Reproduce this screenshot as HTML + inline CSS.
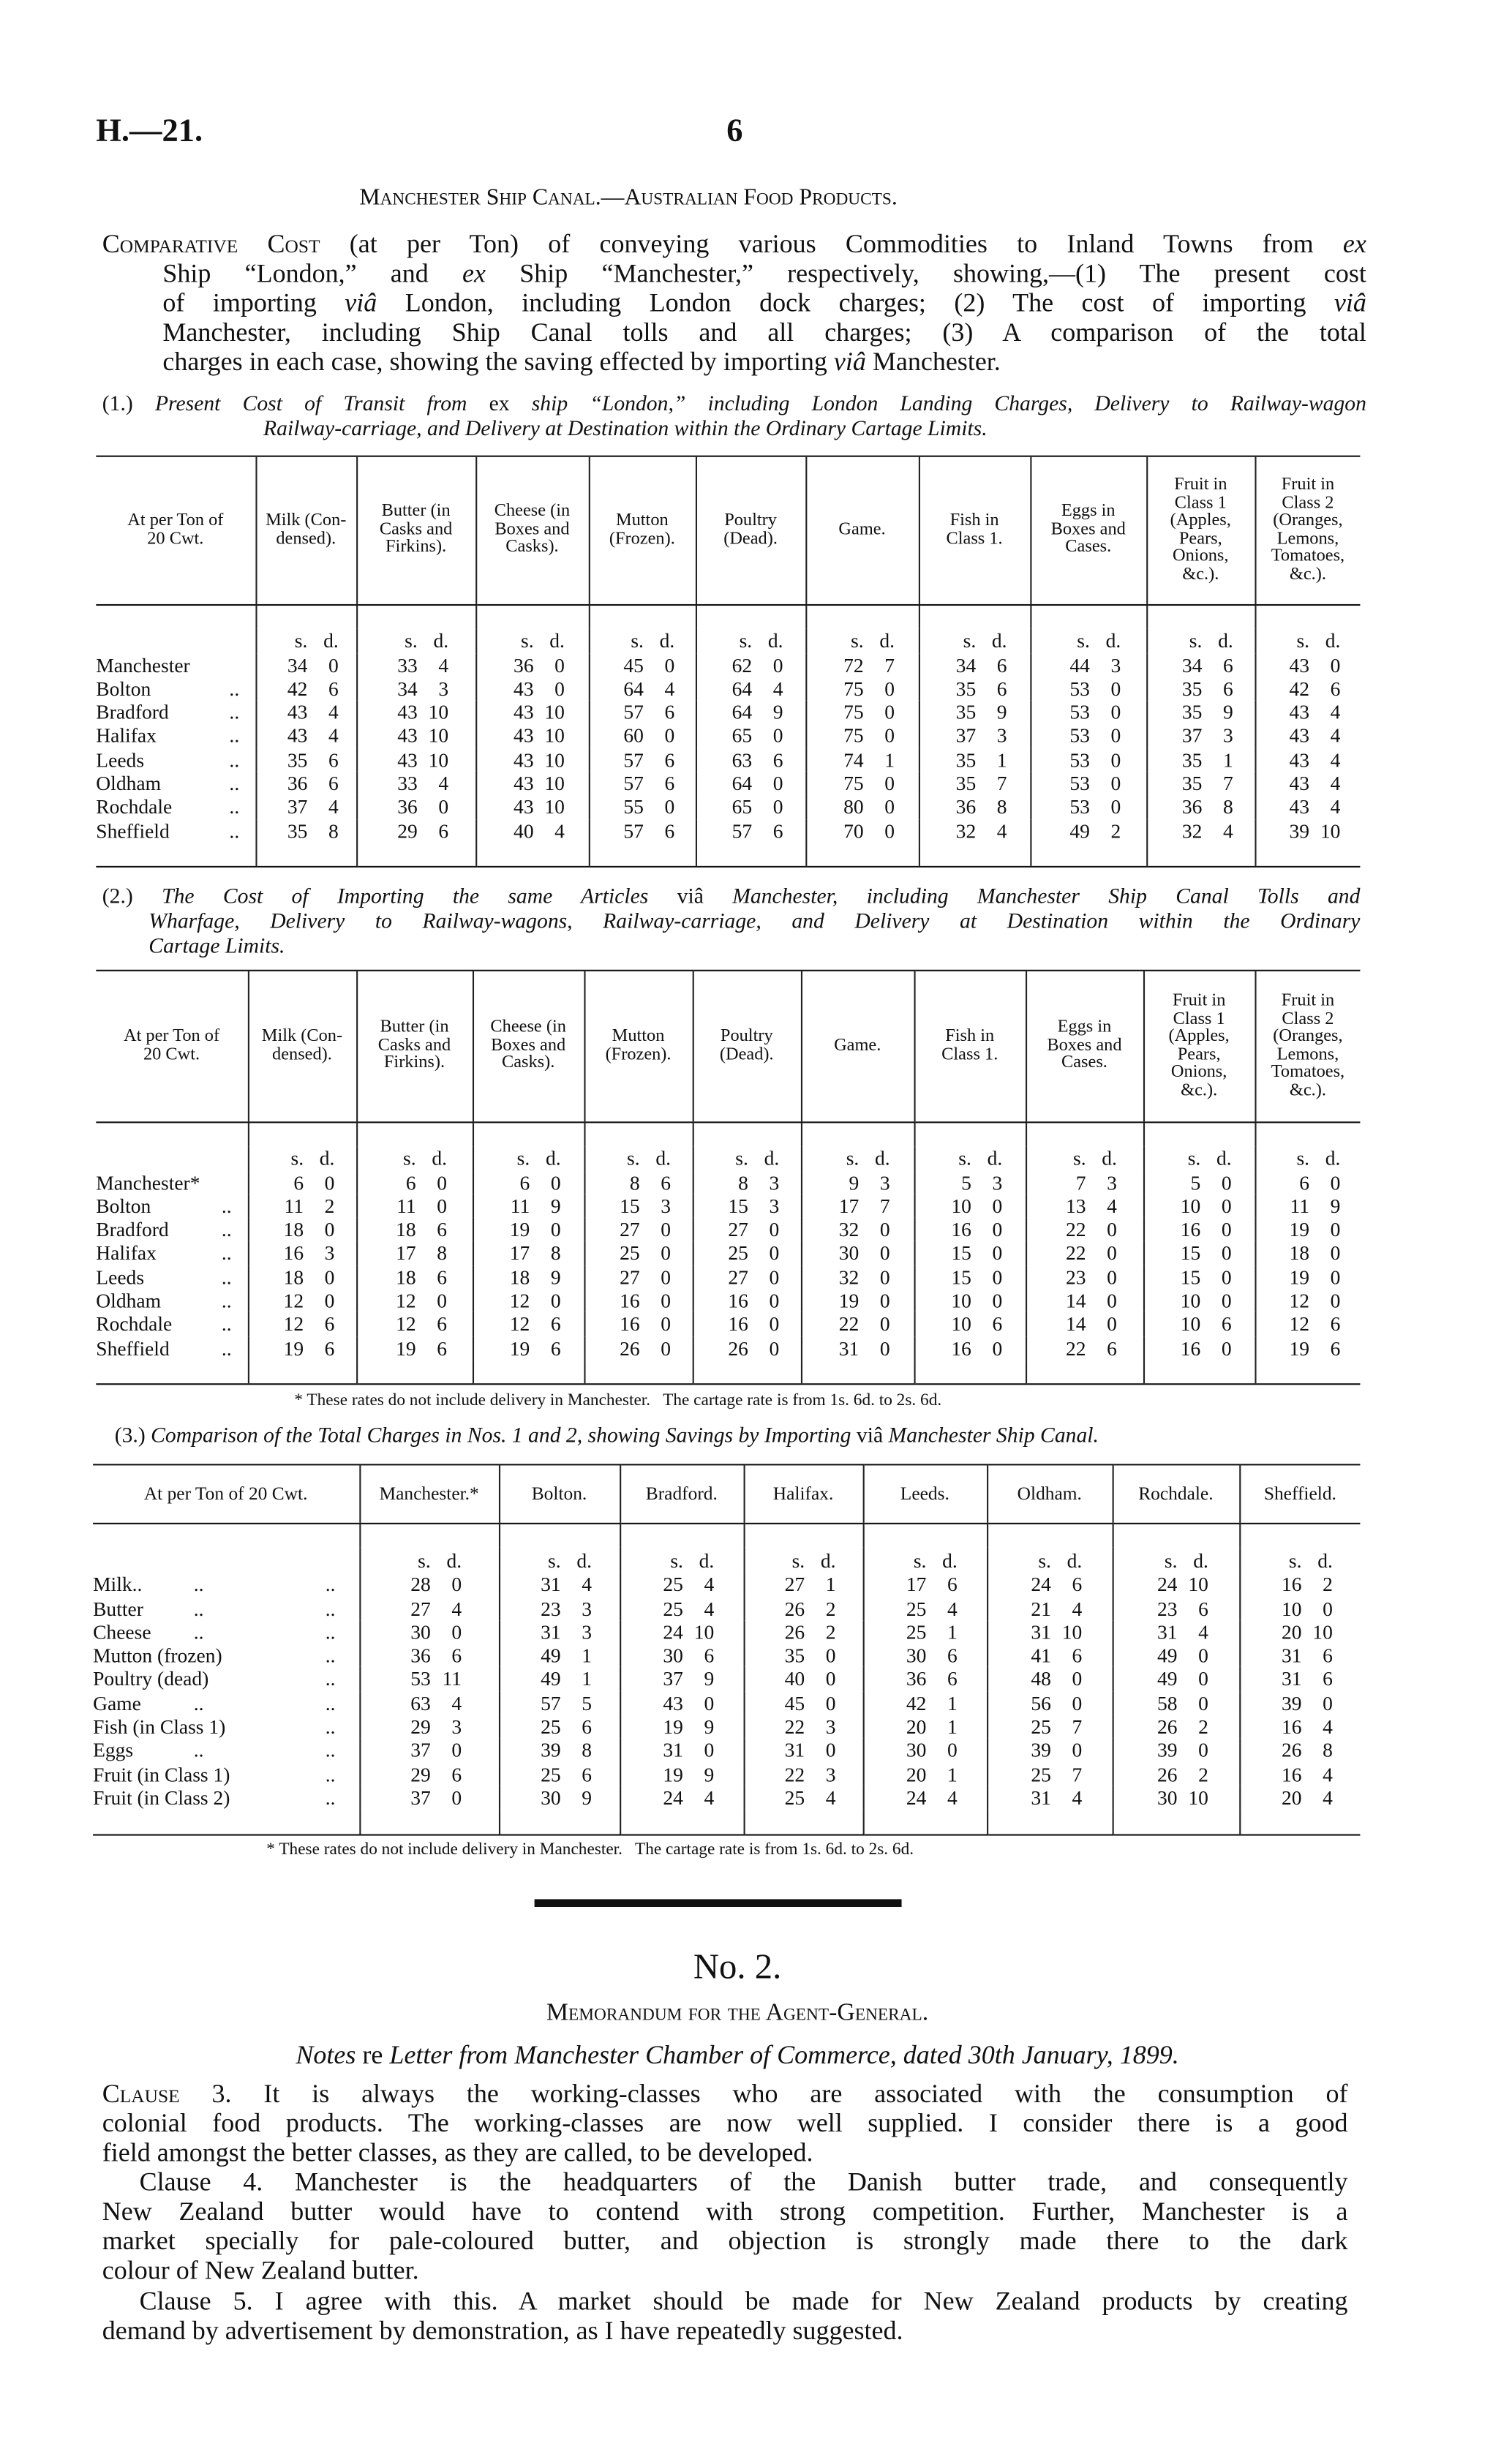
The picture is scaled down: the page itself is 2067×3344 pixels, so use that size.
<!DOCTYPE html>
<html><head><meta charset="utf-8">
<style>
html,body{margin:0;padding:0;background:#fff;}
body{width:2067px;height:3343px;overflow:hidden;position:relative;}
#p{position:absolute;left:0;top:0;width:976px;height:1579px;transform:scale(2.1178);transform-origin:0 0;font-family:"Liberation Serif",serif;color:#111;}
.a{position:absolute;white-space:nowrap;}
.j{position:absolute;text-align:justify;text-align-last:justify;white-space:nowrap;font-size:17px;line-height:19px;}
.sc{font-variant:small-caps;}
table{position:absolute;border-collapse:collapse;table-layout:fixed;font-size:13px;}
td{padding:0;border-left:1px solid #222;text-align:center;vertical-align:middle;line-height:15.3px;height:15.3px;white-space:nowrap;}
td:first-child{border-left:none;text-align:left;}
tr.h td{font-size:11.5px;line-height:11.5px;border-top:1.6px solid #111;border-bottom:1px solid #111;}
tr.e td{border-bottom:1.6px solid #111;}
b{font-weight:normal;display:inline-block;text-align:right;}
b.s{width:22px;}b.d{width:20px;}
.lb{position:relative;}
.dt{position:absolute;right:10px;}
.d1{position:absolute;left:65px;}.d2{position:absolute;left:150px;}
</style></head><body><div id="p">
<div class="a" style="left:62px;top:72px;font-size:21px;font-weight:bold;">H.—21.</div>
<div class="a" style="left:469px;top:72px;font-size:21px;font-weight:bold;">6</div>
<div class="a sc" style="left:232px;top:120px;font-size:15px;">Manchester Ship Canal.—Australian Food Products.</div>

<div class="j" style="left:66px;top:148px;width:816px;"><span class="sc">Comparative Cost</span> (at per Ton) of conveying various Commodities to Inland Towns from <i>ex</i></div>
<div class="j" style="left:105px;top:167px;width:777px;">Ship “London,” and <i>ex</i> Ship “Manchester,” respectively, showing,—(1) The present cost</div>
<div class="j" style="left:105px;top:186px;width:777px;">of importing <i>viâ</i> London, including London dock charges; (2) The cost of importing <i>viâ</i></div>
<div class="j" style="left:105px;top:205px;width:777px;">Manchester, including Ship Canal tolls and all charges; (3) A comparison of the total</div>
<div class="a" style="left:105px;top:224px;font-size:17px;line-height:19px;">charges in each case, showing the saving effected by importing <i>viâ</i> Manchester.</div>

<div class="j" style="left:66px;top:254px;width:816px;font-size:14px;line-height:16px;">(1.) <i>Present Cost of Transit from</i> ex <i>ship “London,” including London Landing Charges, Delivery to Railway-wagon</i></div>
<div class="a" style="left:170px;top:270px;font-size:14px;line-height:16px;"><i>Railway-carriage, and Delivery at Destination within the Ordinary Cartage Limits.</i></div>

<table style="left:62px;top:294px;width:816px;">
<colgroup><col style="width:103px"><col style="width:65px"><col style="width:77px"><col style="width:73px"><col style="width:69px"><col style="width:71px"><col style="width:73px"><col style="width:72px"><col style="width:75px"><col style="width:70px"><col style="width:68px"></colgroup>
<tr class="h" style="height:96px"><td style="text-align:center">At per Ton of<br>20 Cwt.</td><td>Milk (Con-<br>densed).</td><td>Butter (in<br>Casks and<br>Firkins).</td><td>Cheese (in<br>Boxes and<br>Casks).</td><td>Mutton<br>(Frozen).</td><td>Poultry<br>(Dead).</td><td>Game.</td><td>Fish in<br>Class 1.</td><td>Eggs in<br>Boxes and<br>Cases.</td><td>Fruit in<br>Class 1<br>(Apples,<br>Pears,<br>Onions,<br>&amp;c.).</td><td>Fruit in<br>Class 2<br>(Oranges,<br>Lemons,<br>Tomatoes,<br>&amp;c.).</td></tr>
<tr style="height:13px"><td style="height:13px"></td><td></td><td></td><td></td><td></td><td></td><td></td><td></td><td></td><td></td><td></td></tr>
<tr><td></td><td><b class="s">s.</b><b class="d">d.</b></td><td><b class="s">s.</b><b class="d">d.</b></td><td><b class="s">s.</b><b class="d">d.</b></td><td><b class="s">s.</b><b class="d">d.</b></td><td><b class="s">s.</b><b class="d">d.</b></td><td><b class="s">s.</b><b class="d">d.</b></td><td><b class="s">s.</b><b class="d">d.</b></td><td><b class="s">s.</b><b class="d">d.</b></td><td><b class="s">s.</b><b class="d">d.</b></td><td><b class="s">s.</b><b class="d">d.</b></td></tr>
<tr><td class="lb">Manchester</td><td><b class="s">34</b><b class="d">0</b></td><td><b class="s">33</b><b class="d">4</b></td><td><b class="s">36</b><b class="d">0</b></td><td><b class="s">45</b><b class="d">0</b></td><td><b class="s">62</b><b class="d">0</b></td><td><b class="s">72</b><b class="d">7</b></td><td><b class="s">34</b><b class="d">6</b></td><td><b class="s">44</b><b class="d">3</b></td><td><b class="s">34</b><b class="d">6</b></td><td><b class="s">43</b><b class="d">0</b></td></tr>
<tr><td class="lb">Bolton<span class="dt">..</span></td><td><b class="s">42</b><b class="d">6</b></td><td><b class="s">34</b><b class="d">3</b></td><td><b class="s">43</b><b class="d">0</b></td><td><b class="s">64</b><b class="d">4</b></td><td><b class="s">64</b><b class="d">4</b></td><td><b class="s">75</b><b class="d">0</b></td><td><b class="s">35</b><b class="d">6</b></td><td><b class="s">53</b><b class="d">0</b></td><td><b class="s">35</b><b class="d">6</b></td><td><b class="s">42</b><b class="d">6</b></td></tr>
<tr><td class="lb">Bradford<span class="dt">..</span></td><td><b class="s">43</b><b class="d">4</b></td><td><b class="s">43</b><b class="d">10</b></td><td><b class="s">43</b><b class="d">10</b></td><td><b class="s">57</b><b class="d">6</b></td><td><b class="s">64</b><b class="d">9</b></td><td><b class="s">75</b><b class="d">0</b></td><td><b class="s">35</b><b class="d">9</b></td><td><b class="s">53</b><b class="d">0</b></td><td><b class="s">35</b><b class="d">9</b></td><td><b class="s">43</b><b class="d">4</b></td></tr>
<tr><td class="lb">Halifax<span class="dt">..</span></td><td><b class="s">43</b><b class="d">4</b></td><td><b class="s">43</b><b class="d">10</b></td><td><b class="s">43</b><b class="d">10</b></td><td><b class="s">60</b><b class="d">0</b></td><td><b class="s">65</b><b class="d">0</b></td><td><b class="s">75</b><b class="d">0</b></td><td><b class="s">37</b><b class="d">3</b></td><td><b class="s">53</b><b class="d">0</b></td><td><b class="s">37</b><b class="d">3</b></td><td><b class="s">43</b><b class="d">4</b></td></tr>
<tr><td class="lb">Leeds<span class="dt">..</span></td><td><b class="s">35</b><b class="d">6</b></td><td><b class="s">43</b><b class="d">10</b></td><td><b class="s">43</b><b class="d">10</b></td><td><b class="s">57</b><b class="d">6</b></td><td><b class="s">63</b><b class="d">6</b></td><td><b class="s">74</b><b class="d">1</b></td><td><b class="s">35</b><b class="d">1</b></td><td><b class="s">53</b><b class="d">0</b></td><td><b class="s">35</b><b class="d">1</b></td><td><b class="s">43</b><b class="d">4</b></td></tr>
<tr><td class="lb">Oldham<span class="dt">..</span></td><td><b class="s">36</b><b class="d">6</b></td><td><b class="s">33</b><b class="d">4</b></td><td><b class="s">43</b><b class="d">10</b></td><td><b class="s">57</b><b class="d">6</b></td><td><b class="s">64</b><b class="d">0</b></td><td><b class="s">75</b><b class="d">0</b></td><td><b class="s">35</b><b class="d">7</b></td><td><b class="s">53</b><b class="d">0</b></td><td><b class="s">35</b><b class="d">7</b></td><td><b class="s">43</b><b class="d">4</b></td></tr>
<tr><td class="lb">Rochdale<span class="dt">..</span></td><td><b class="s">37</b><b class="d">4</b></td><td><b class="s">36</b><b class="d">0</b></td><td><b class="s">43</b><b class="d">10</b></td><td><b class="s">55</b><b class="d">0</b></td><td><b class="s">65</b><b class="d">0</b></td><td><b class="s">80</b><b class="d">0</b></td><td><b class="s">36</b><b class="d">8</b></td><td><b class="s">53</b><b class="d">0</b></td><td><b class="s">36</b><b class="d">8</b></td><td><b class="s">43</b><b class="d">4</b></td></tr>
<tr><td class="lb">Sheffield<span class="dt">..</span></td><td><b class="s">35</b><b class="d">8</b></td><td><b class="s">29</b><b class="d">6</b></td><td><b class="s">40</b><b class="d">4</b></td><td><b class="s">57</b><b class="d">6</b></td><td><b class="s">57</b><b class="d">6</b></td><td><b class="s">70</b><b class="d">0</b></td><td><b class="s">32</b><b class="d">4</b></td><td><b class="s">49</b><b class="d">2</b></td><td><b class="s">32</b><b class="d">4</b></td><td><b class="s">39</b><b class="d">10</b></td></tr>
<tr class="e" style="height:11px"><td style="height:11px"></td><td></td><td></td><td></td><td></td><td></td><td></td><td></td><td></td><td></td><td></td></tr>
</table>

<div class="j" style="left:66px;top:572px;width:812px;font-size:14px;line-height:16px;">(2.) <i>The Cost of Importing the same Articles</i> viâ <i>Manchester, including Manchester Ship Canal Tolls and</i></div>
<div class="j" style="left:96px;top:588px;width:782px;font-size:14px;line-height:16px;"><i>Wharfage, Delivery to Railway-wagons, Railway-carriage, and Delivery at Destination within the Ordinary</i></div>
<div class="a" style="left:96px;top:604px;font-size:14px;line-height:16px;"><i>Cartage Limits.</i></div>

<table style="left:62px;top:626px;width:816px;">
<colgroup><col style="width:98px"><col style="width:70px"><col style="width:75px"><col style="width:72px"><col style="width:70px"><col style="width:70px"><col style="width:73px"><col style="width:72px"><col style="width:76px"><col style="width:72px"><col style="width:68px"></colgroup>
<tr class="h" style="height:98px"><td style="text-align:center">At per Ton of<br>20 Cwt.</td><td>Milk (Con-<br>densed).</td><td>Butter (in<br>Casks and<br>Firkins).</td><td>Cheese (in<br>Boxes and<br>Casks).</td><td>Mutton<br>(Frozen).</td><td>Poultry<br>(Dead).</td><td>Game.</td><td>Fish in<br>Class 1.</td><td>Eggs in<br>Boxes and<br>Cases.</td><td>Fruit in<br>Class 1<br>(Apples,<br>Pears,<br>Onions,<br>&amp;c.).</td><td>Fruit in<br>Class 2<br>(Oranges,<br>Lemons,<br>Tomatoes,<br>&amp;c.).</td></tr>
<tr style="height:13px"><td style="height:13px"></td><td></td><td></td><td></td><td></td><td></td><td></td><td></td><td></td><td></td><td></td></tr>
<tr><td></td><td><b class="s">s.</b><b class="d">d.</b></td><td><b class="s">s.</b><b class="d">d.</b></td><td><b class="s">s.</b><b class="d">d.</b></td><td><b class="s">s.</b><b class="d">d.</b></td><td><b class="s">s.</b><b class="d">d.</b></td><td><b class="s">s.</b><b class="d">d.</b></td><td><b class="s">s.</b><b class="d">d.</b></td><td><b class="s">s.</b><b class="d">d.</b></td><td><b class="s">s.</b><b class="d">d.</b></td><td><b class="s">s.</b><b class="d">d.</b></td></tr>
<tr><td class="lb">Manchester*</td><td><b class="s">6</b><b class="d">0</b></td><td><b class="s">6</b><b class="d">0</b></td><td><b class="s">6</b><b class="d">0</b></td><td><b class="s">8</b><b class="d">6</b></td><td><b class="s">8</b><b class="d">3</b></td><td><b class="s">9</b><b class="d">3</b></td><td><b class="s">5</b><b class="d">3</b></td><td><b class="s">7</b><b class="d">3</b></td><td><b class="s">5</b><b class="d">0</b></td><td><b class="s">6</b><b class="d">0</b></td></tr>
<tr><td class="lb">Bolton<span class="dt">..</span></td><td><b class="s">11</b><b class="d">2</b></td><td><b class="s">11</b><b class="d">0</b></td><td><b class="s">11</b><b class="d">9</b></td><td><b class="s">15</b><b class="d">3</b></td><td><b class="s">15</b><b class="d">3</b></td><td><b class="s">17</b><b class="d">7</b></td><td><b class="s">10</b><b class="d">0</b></td><td><b class="s">13</b><b class="d">4</b></td><td><b class="s">10</b><b class="d">0</b></td><td><b class="s">11</b><b class="d">9</b></td></tr>
<tr><td class="lb">Bradford<span class="dt">..</span></td><td><b class="s">18</b><b class="d">0</b></td><td><b class="s">18</b><b class="d">6</b></td><td><b class="s">19</b><b class="d">0</b></td><td><b class="s">27</b><b class="d">0</b></td><td><b class="s">27</b><b class="d">0</b></td><td><b class="s">32</b><b class="d">0</b></td><td><b class="s">16</b><b class="d">0</b></td><td><b class="s">22</b><b class="d">0</b></td><td><b class="s">16</b><b class="d">0</b></td><td><b class="s">19</b><b class="d">0</b></td></tr>
<tr><td class="lb">Halifax<span class="dt">..</span></td><td><b class="s">16</b><b class="d">3</b></td><td><b class="s">17</b><b class="d">8</b></td><td><b class="s">17</b><b class="d">8</b></td><td><b class="s">25</b><b class="d">0</b></td><td><b class="s">25</b><b class="d">0</b></td><td><b class="s">30</b><b class="d">0</b></td><td><b class="s">15</b><b class="d">0</b></td><td><b class="s">22</b><b class="d">0</b></td><td><b class="s">15</b><b class="d">0</b></td><td><b class="s">18</b><b class="d">0</b></td></tr>
<tr><td class="lb">Leeds<span class="dt">..</span></td><td><b class="s">18</b><b class="d">0</b></td><td><b class="s">18</b><b class="d">6</b></td><td><b class="s">18</b><b class="d">9</b></td><td><b class="s">27</b><b class="d">0</b></td><td><b class="s">27</b><b class="d">0</b></td><td><b class="s">32</b><b class="d">0</b></td><td><b class="s">15</b><b class="d">0</b></td><td><b class="s">23</b><b class="d">0</b></td><td><b class="s">15</b><b class="d">0</b></td><td><b class="s">19</b><b class="d">0</b></td></tr>
<tr><td class="lb">Oldham<span class="dt">..</span></td><td><b class="s">12</b><b class="d">0</b></td><td><b class="s">12</b><b class="d">0</b></td><td><b class="s">12</b><b class="d">0</b></td><td><b class="s">16</b><b class="d">0</b></td><td><b class="s">16</b><b class="d">0</b></td><td><b class="s">19</b><b class="d">0</b></td><td><b class="s">10</b><b class="d">0</b></td><td><b class="s">14</b><b class="d">0</b></td><td><b class="s">10</b><b class="d">0</b></td><td><b class="s">12</b><b class="d">0</b></td></tr>
<tr><td class="lb">Rochdale<span class="dt">..</span></td><td><b class="s">12</b><b class="d">6</b></td><td><b class="s">12</b><b class="d">6</b></td><td><b class="s">12</b><b class="d">6</b></td><td><b class="s">16</b><b class="d">0</b></td><td><b class="s">16</b><b class="d">0</b></td><td><b class="s">22</b><b class="d">0</b></td><td><b class="s">10</b><b class="d">6</b></td><td><b class="s">14</b><b class="d">0</b></td><td><b class="s">10</b><b class="d">6</b></td><td><b class="s">12</b><b class="d">6</b></td></tr>
<tr><td class="lb">Sheffield<span class="dt">..</span></td><td><b class="s">19</b><b class="d">6</b></td><td><b class="s">19</b><b class="d">6</b></td><td><b class="s">19</b><b class="d">6</b></td><td><b class="s">26</b><b class="d">0</b></td><td><b class="s">26</b><b class="d">0</b></td><td><b class="s">31</b><b class="d">0</b></td><td><b class="s">16</b><b class="d">0</b></td><td><b class="s">22</b><b class="d">6</b></td><td><b class="s">16</b><b class="d">0</b></td><td><b class="s">19</b><b class="d">6</b></td></tr>
<tr class="e" style="height:11px"><td style="height:11px"></td><td></td><td></td><td></td><td></td><td></td><td></td><td></td><td></td><td></td><td></td></tr>
</table>

<div class="a" style="left:190px;top:898px;font-size:11px;line-height:13px;">* These rates do not include delivery in Manchester.&nbsp;&nbsp; The cartage rate is from 1s. 6d. to 2s. 6d.</div>
<div class="a" style="left:74px;top:920px;font-size:14px;line-height:16px;">(3.) <i>Comparison of the Total Charges in Nos. 1 and 2, showing Savings by Importing</i> viâ <i>Manchester Ship Canal.</i></div>

<table style="left:60px;top:945px;width:818px;">
<colgroup><col style="width:172px"><col style="width:90px"><col style="width:78px"><col style="width:80px"><col style="width:77px"><col style="width:80px"><col style="width:81px"><col style="width:82px"><col style="width:78px"></colgroup>
<tr class="h" style="height:38px"><td style="text-align:center;font-size:12px">At per Ton of 20 Cwt.</td><td style="font-size:12px">Manchester.*</td><td style="font-size:12px">Bolton.</td><td style="font-size:12px">Bradford.</td><td style="font-size:12px">Halifax.</td><td style="font-size:12px">Leeds.</td><td style="font-size:12px">Oldham.</td><td style="font-size:12px">Rochdale.</td><td style="font-size:12px">Sheffield.</td></tr>
<tr style="height:14px"><td style="height:14px"></td><td></td><td></td><td></td><td></td><td></td><td></td><td></td><td></td></tr>
<tr style="height:16px"><td></td><td><b class="s">s.</b><b class="d">d.</b></td><td><b class="s">s.</b><b class="d">d.</b></td><td><b class="s">s.</b><b class="d">d.</b></td><td><b class="s">s.</b><b class="d">d.</b></td><td><b class="s">s.</b><b class="d">d.</b></td><td><b class="s">s.</b><b class="d">d.</b></td><td><b class="s">s.</b><b class="d">d.</b></td><td><b class="s">s.</b><b class="d">d.</b></td></tr>
<tr><td class="lb">Milk..<span class="d1">..</span><span class="d2">..</span></td><td><b class="s">28</b><b class="d">0</b></td><td><b class="s">31</b><b class="d">4</b></td><td><b class="s">25</b><b class="d">4</b></td><td><b class="s">27</b><b class="d">1</b></td><td><b class="s">17</b><b class="d">6</b></td><td><b class="s">24</b><b class="d">6</b></td><td><b class="s">24</b><b class="d">10</b></td><td><b class="s">16</b><b class="d">2</b></td></tr>
<tr><td class="lb">Butter<span class="d1">..</span><span class="d2">..</span></td><td><b class="s">27</b><b class="d">4</b></td><td><b class="s">23</b><b class="d">3</b></td><td><b class="s">25</b><b class="d">4</b></td><td><b class="s">26</b><b class="d">2</b></td><td><b class="s">25</b><b class="d">4</b></td><td><b class="s">21</b><b class="d">4</b></td><td><b class="s">23</b><b class="d">6</b></td><td><b class="s">10</b><b class="d">0</b></td></tr>
<tr><td class="lb">Cheese<span class="d1">..</span><span class="d2">..</span></td><td><b class="s">30</b><b class="d">0</b></td><td><b class="s">31</b><b class="d">3</b></td><td><b class="s">24</b><b class="d">10</b></td><td><b class="s">26</b><b class="d">2</b></td><td><b class="s">25</b><b class="d">1</b></td><td><b class="s">31</b><b class="d">10</b></td><td><b class="s">31</b><b class="d">4</b></td><td><b class="s">20</b><b class="d">10</b></td></tr>
<tr><td class="lb">Mutton (frozen)<span class="d2">..</span></td><td><b class="s">36</b><b class="d">6</b></td><td><b class="s">49</b><b class="d">1</b></td><td><b class="s">30</b><b class="d">6</b></td><td><b class="s">35</b><b class="d">0</b></td><td><b class="s">30</b><b class="d">6</b></td><td><b class="s">41</b><b class="d">6</b></td><td><b class="s">49</b><b class="d">0</b></td><td><b class="s">31</b><b class="d">6</b></td></tr>
<tr><td class="lb">Poultry (dead)<span class="d2">..</span></td><td><b class="s">53</b><b class="d">11</b></td><td><b class="s">49</b><b class="d">1</b></td><td><b class="s">37</b><b class="d">9</b></td><td><b class="s">40</b><b class="d">0</b></td><td><b class="s">36</b><b class="d">6</b></td><td><b class="s">48</b><b class="d">0</b></td><td><b class="s">49</b><b class="d">0</b></td><td><b class="s">31</b><b class="d">6</b></td></tr>
<tr><td class="lb">Game<span class="d1">..</span><span class="d2">..</span></td><td><b class="s">63</b><b class="d">4</b></td><td><b class="s">57</b><b class="d">5</b></td><td><b class="s">43</b><b class="d">0</b></td><td><b class="s">45</b><b class="d">0</b></td><td><b class="s">42</b><b class="d">1</b></td><td><b class="s">56</b><b class="d">0</b></td><td><b class="s">58</b><b class="d">0</b></td><td><b class="s">39</b><b class="d">0</b></td></tr>
<tr><td class="lb">Fish (in Class 1)<span class="d2">..</span></td><td><b class="s">29</b><b class="d">3</b></td><td><b class="s">25</b><b class="d">6</b></td><td><b class="s">19</b><b class="d">9</b></td><td><b class="s">22</b><b class="d">3</b></td><td><b class="s">20</b><b class="d">1</b></td><td><b class="s">25</b><b class="d">7</b></td><td><b class="s">26</b><b class="d">2</b></td><td><b class="s">16</b><b class="d">4</b></td></tr>
<tr><td class="lb">Eggs<span class="d1">..</span><span class="d2">..</span></td><td><b class="s">37</b><b class="d">0</b></td><td><b class="s">39</b><b class="d">8</b></td><td><b class="s">31</b><b class="d">0</b></td><td><b class="s">31</b><b class="d">0</b></td><td><b class="s">30</b><b class="d">0</b></td><td><b class="s">39</b><b class="d">0</b></td><td><b class="s">39</b><b class="d">0</b></td><td><b class="s">26</b><b class="d">8</b></td></tr>
<tr><td class="lb">Fruit (in Class 1)<span class="d2">..</span></td><td><b class="s">29</b><b class="d">6</b></td><td><b class="s">25</b><b class="d">6</b></td><td><b class="s">19</b><b class="d">9</b></td><td><b class="s">22</b><b class="d">3</b></td><td><b class="s">20</b><b class="d">1</b></td><td><b class="s">25</b><b class="d">7</b></td><td><b class="s">26</b><b class="d">2</b></td><td><b class="s">16</b><b class="d">4</b></td></tr>
<tr><td class="lb">Fruit (in Class 2)<span class="d2">..</span></td><td><b class="s">37</b><b class="d">0</b></td><td><b class="s">30</b><b class="d">9</b></td><td><b class="s">24</b><b class="d">4</b></td><td><b class="s">25</b><b class="d">4</b></td><td><b class="s">24</b><b class="d">4</b></td><td><b class="s">31</b><b class="d">4</b></td><td><b class="s">30</b><b class="d">10</b></td><td><b class="s">20</b><b class="d">4</b></td></tr>
<tr class="e" style="height:14px"><td style="height:14px"></td><td></td><td></td><td></td><td></td><td></td><td></td><td></td><td></td></tr>
</table>

<div class="a" style="left:172px;top:1188px;font-size:11px;line-height:13px;">* These rates do not include delivery in Manchester.&nbsp;&nbsp; The cartage rate is from 1s. 6d. to 2s. 6d.</div>
<div style="position:absolute;left:345px;top:1226px;width:237px;height:5px;background:#111;"></div>
<div class="a" style="left:0;width:952px;text-align:center;top:1257px;font-size:23px;line-height:26px;">No. 2.</div>
<div class="a sc" style="left:0;width:952px;text-align:center;top:1291px;font-size:16px;line-height:18px;">Memorandum for the Agent-General.</div>
<div class="a" style="left:0;width:952px;text-align:center;top:1317px;font-size:17px;line-height:19px;"><i>Notes</i> re <i>Letter from Manchester Chamber of Commerce, dated 30th January, 1899.</i></div>

<div class="j" style="left:66px;top:1342px;width:804px;"><span class="sc">Clause</span> 3. It is always the working-classes who are associated with the consumption of</div>
<div class="j" style="left:66px;top:1361px;width:804px;">colonial food products. The working-classes are now well supplied. I consider there is a good</div>
<div class="a" style="left:66px;top:1380px;font-size:17px;line-height:19px;">field amongst the better classes, as they are called, to be developed.</div>
<div class="j" style="left:90px;top:1399px;width:780px;">Clause 4. Manchester is the headquarters of the Danish butter trade, and consequently</div>
<div class="j" style="left:66px;top:1418px;width:804px;">New Zealand butter would have to contend with strong competition. Further, Manchester is a</div>
<div class="j" style="left:66px;top:1437px;width:804px;">market specially for pale-coloured butter, and objection is strongly made there to the dark</div>
<div class="a" style="left:66px;top:1456px;font-size:17px;line-height:19px;">colour of New Zealand butter.</div>
<div class="j" style="left:90px;top:1476px;width:780px;">Clause 5. I agree with this. A market should be made for New Zealand products by creating</div>
<div class="a" style="left:66px;top:1495px;font-size:17px;line-height:19px;">demand by advertisement by demonstration, as I have repeatedly suggested.</div>
</div></body></html>
